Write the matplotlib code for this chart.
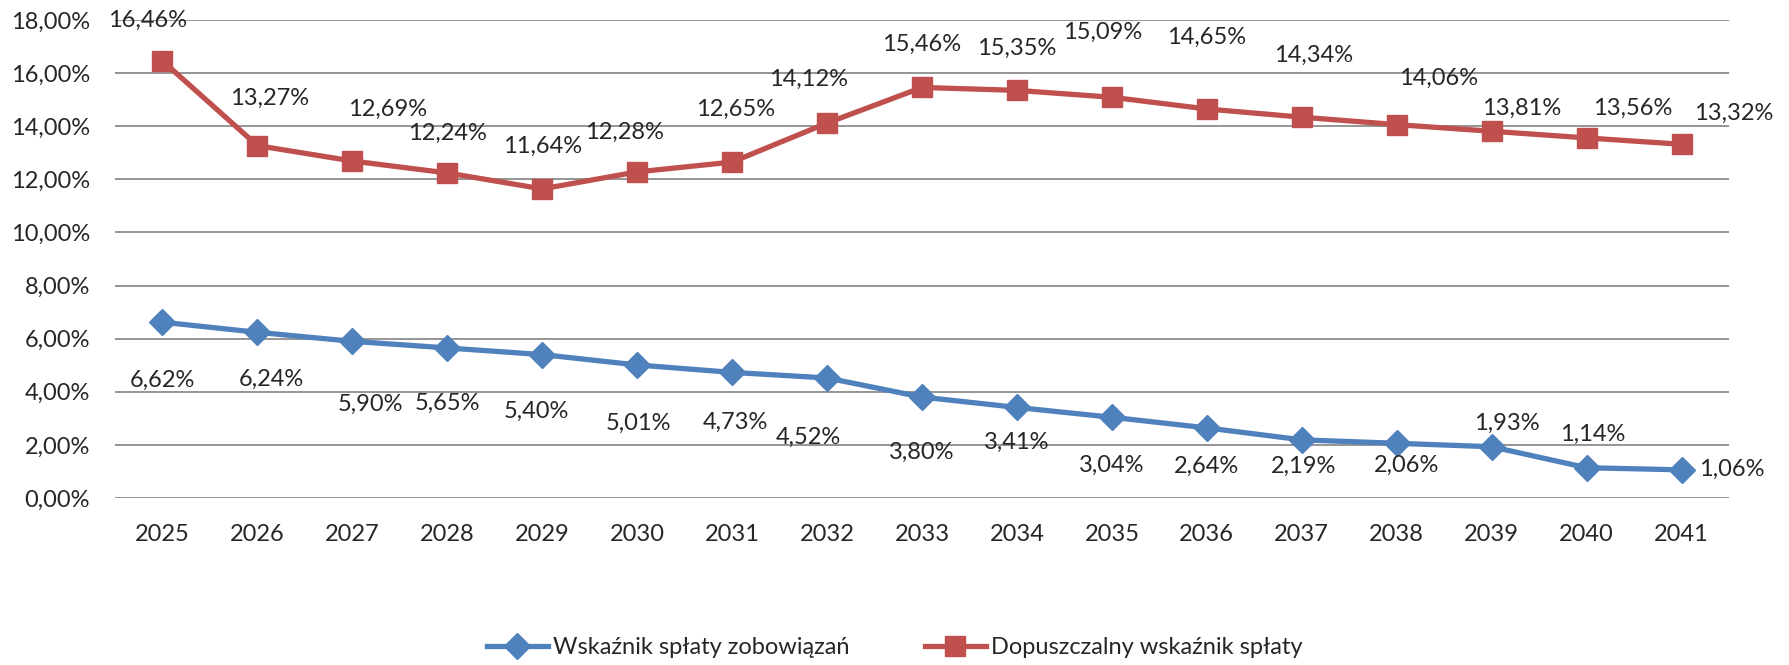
import matplotlib
matplotlib.use("Agg")
import matplotlib.pyplot as plt
from matplotlib.ticker import FuncFormatter, MultipleLocator

plt.rcParams['font.family'] = ['Lato', 'DejaVu Sans']

years = [str(y) for y in range(2025, 2042)]
splata = [6.62, 6.24, 5.90, 5.65, 5.40, 5.01, 4.73, 4.52, 3.80, 3.41, 3.04, 2.64, 2.19, 2.06, 1.93, 1.14, 1.06]
dopuszczalny = [16.46, 13.27, 12.69, 12.24, 11.64, 12.28, 12.65, 14.12, 15.46, 15.35, 15.09, 14.65, 14.34, 14.06, 13.81, 13.56, 13.32]
series_names = ["Wskaźnik spłaty zobowiązań", "Dopuszczalny wskaźnik spłaty"]

# label offsets in pixels (dx, dy upward positive)
blue_off = [(0, -58), (14, -47), (18, -63), (0, -55), (-6, -57), (1, -58), (3, -50), (-19, -59),
            (0, -55), (0, -35), (0, -48), (0, -38), (2, -27), (10, -22), (15, 23), (6, 33), (50, 1)]
red_off = [(-15, 41), (12, 47), (35, 52), (0, 40), (0, 43), (-13, 40), (3, 53), (-19, 44),
           (0, 43), (0, 42), (-9, 65), (0, 72), (12, 62), (42, 46), (30, 23), (46, 30), (52, 31)]

blue = '#4F81BD'
red = '#C0504D'
txt = '#262626'
fs = 17

fig = plt.figure(figsize=(17.89, 6.65), dpi=100)
ax = fig.add_axes([115/1789, 167/665, (1729-115)/1789, (498-20)/665])

x = list(range(len(years)))
ax.plot(x, splata, color=blue, lw=3.8, marker='D', ms=13, mec=blue, mfc=blue,
        label=series_names[0], zorder=3)
ax.plot(x, dopuszczalny, color=red, lw=3.8, marker='s', ms=15, mec=red, mfc=red,
        label=series_names[1], zorder=3)

def fmt(v):
    return f"{v:.2f}".replace('.', ',') + '%'

for i, v in enumerate(splata):
    ax.annotate(fmt(v), (i, v), xytext=blue_off[i], textcoords='offset pixels',
                ha='center', va='center', fontsize=fs, color=txt, zorder=4)
for i, v in enumerate(dopuszczalny):
    ax.annotate(fmt(v), (i, v), xytext=red_off[i], textcoords='offset pixels',
                ha='center', va='center', fontsize=fs, color=txt, zorder=4)

ax.set_xlim(-0.5, len(years) - 0.5)
ax.set_ylim(0, 18)
ax.yaxis.set_major_locator(MultipleLocator(2))
ax.yaxis.set_major_formatter(FuncFormatter(lambda v, p: f"{v:.2f}".replace('.', ',') + '%'))
ax.set_xticks(x)
ax.set_xticklabels(years)
ax.tick_params(axis='both', length=0, labelsize=fs, colors=txt)
ax.tick_params(axis='y', pad=18)
ax.tick_params(axis='x', pad=19)
ax.grid(axis='y', color='#8C8C8C', lw=1.3)
ax.set_axisbelow(True)
for s in ax.spines.values():
    s.set_visible(False)

fig.legend(loc='center', bbox_to_anchor=(0.5, 17/665), ncol=2, frameon=False,
           fontsize=fs, handlelength=2.6, columnspacing=3.2, handletextpad=0.2,
           labelcolor=txt)

fig.savefig('out.png', dpi=100)
